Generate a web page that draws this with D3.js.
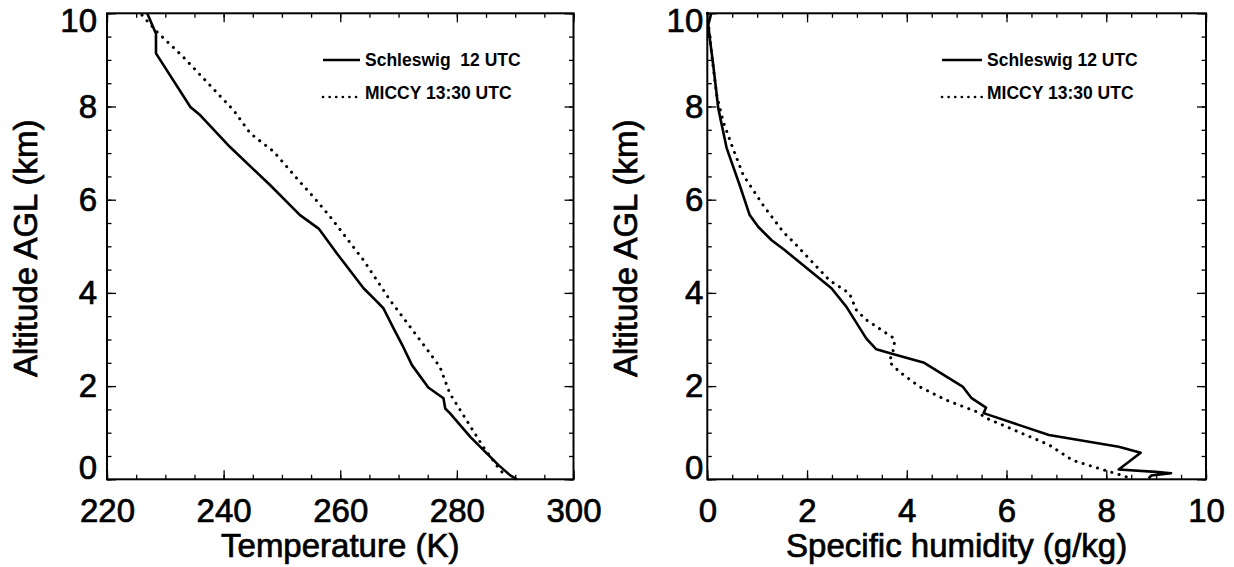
<!DOCTYPE html>
<html>
<head>
<meta charset="utf-8">
<script src="https://cdn.jsdelivr.net/npm/d3@7"></script>
<style>
  html, body { margin: 0; padding: 0; background: #fff; }
  svg { display: block; }
  text { font-family: "Liberation Sans", Arial, Helvetica, sans-serif; fill: #000; }
</style>
</head>
<body>
<svg id="chart" width="1234" height="567"></svg>
<script>
// ---------------- DATA ----------------
const altTicks = [0, 2, 4, 6, 8, 10];
const tempTicks = [220, 240, 260, 280, 300];
const humTicks = [0, 2, 4, 6, 8, 10];
const altDomain = [0, 10];
const tempDomain = [220, 300];
const humDomain = [0, 10];

const yTitle = "Altitude AGL (km)";
const tempTitle = "Temperature (K)";
const humTitle = "Specific humidity (g/kg)";
const legendLeft = ["Schleswig  12 UTC", "MICCY 13:30 UTC"];
const legendRight = ["Schleswig 12 UTC", "MICCY 13:30 UTC"];

// Temperature profiles: [T (K), altitude (km)]
const schleswigTemp = [
  [226.9, 10.0], [228.4, 9.56], [228.4, 9.14], [234.3, 7.99], [236.0, 7.81],
  [241.1, 7.13], [248.0, 6.31], [253.1, 5.67], [256.3, 5.38], [259.4, 4.85],
  [264.0, 4.10], [266.0, 3.85], [267.4, 3.67], [269.1, 3.25], [270.8, 2.84],
  [272.3, 2.45], [275.1, 1.97], [277.7, 1.74], [278.0, 1.52], [278.8, 1.42],
  [282.3, 0.91], [287.1, 0.31], [289.1, 0.09], [290.3, 0.0]
];
const miccyTemp = [
  [226.0, 9.96], [228.6, 9.60], [233.1, 9.06], [241.7, 7.92], [244.6, 7.42],
  [248.6, 7.03], [253.1, 6.38], [255.4, 6.06], [258.3, 5.63], [264.0, 4.70],
  [267.4, 4.06], [268.5, 3.85], [272.0, 3.27], [275.0, 2.77], [277.1, 2.41],
  [278.8, 1.84], [284.5, 0.70], [287.4, 0.20], [288.3, 0.09]
];

// Humidity profiles: [q (g/kg), altitude (km)]
const schleswigHum = [
  [0.08, 10.0], [0.02, 9.75], [0.05, 9.46], [0.12, 8.88], [0.22, 7.96],
  [0.39, 7.10], [0.65, 6.31], [0.85, 5.67], [1.02, 5.42], [1.29, 5.13],
  [1.55, 4.92], [2.49, 4.10], [2.79, 3.70], [3.19, 3.02], [3.39, 2.79],
  [3.72, 2.69], [4.35, 2.50], [5.12, 1.99], [5.30, 1.74], [5.59, 1.54],
  [5.54, 1.42], [6.85, 0.95], [8.25, 0.70], [8.69, 0.57], [8.25, 0.21],
  [8.99, 0.16], [9.30, 0.13], [8.90, 0.08], [8.85, 0.02]
];
const miccyHum = [
  [0.0, 10.0], [0.04, 9.6], [0.10, 9.0], [0.19, 8.24], [0.32, 7.67],
  [0.49, 7.17], [0.72, 6.53], [1.12, 5.88], [1.52, 5.31], [1.72, 5.10],
  [2.45, 4.27], [2.85, 3.99], [2.99, 3.63], [3.19, 3.42], [3.75, 3.02],
  [3.75, 2.84], [3.65, 2.52], [3.85, 2.31], [4.25, 1.99], [4.79, 1.70],
  [5.40, 1.45], [5.60, 1.31], [6.85, 0.74], [7.32, 0.41], [7.95, 0.20],
  [8.39, 0.06], [8.5, 0.0]
];

// ---------------- DRAW ----------------
const svg = d3.select("#chart");
const yTop = 13.3, yBottom = 479.3;
const bigFont = 33;

function heavy(sel) {
  sel.attr("font-family", "Liberation Sans, Arial, sans-serif").attr("fill", "#000")
     .attr("stroke", "#000").attr("stroke-width", 0.7).attr("paint-order", "stroke");
}

function panel(opts) {
  const x = d3.scaleLinear().domain(opts.xDomain).range([opts.x0, opts.x1]);
  const y = d3.scaleLinear().domain(altDomain).range([yBottom, yTop]);
  const g = svg.append("g");

  const majorLen = 9, minorLen = 4.5;
  const xMinor = x.ticks(16), yMinor = y.ticks(20);

  const mk = (axis, tr) => g.append("g").attr("transform", tr).call(axis)
      .call(s => s.select(".domain").remove())
      .call(s => s.selectAll("line").attr("stroke", "#000").attr("stroke-width", 1.3));
  mk(d3.axisBottom(x).tickValues(xMinor).tickSize(-minorLen).tickFormat(""), `translate(0,${yBottom})`);
  mk(d3.axisTop(x).tickValues(xMinor).tickSize(-minorLen).tickFormat(""), `translate(0,${yTop})`);
  mk(d3.axisLeft(y).tickValues(yMinor).tickSize(-minorLen).tickFormat(""), `translate(${opts.x0},0)`);
  mk(d3.axisRight(y).tickValues(yMinor).tickSize(-minorLen).tickFormat(""), `translate(${opts.x1},0)`);
  mk(d3.axisTop(x).tickValues(opts.xTicks).tickSize(-majorLen).tickFormat(""), `translate(0,${yTop})`);
  mk(d3.axisRight(y).tickValues(altTicks).tickSize(-majorLen).tickFormat(""), `translate(${opts.x1},0)`);

  const bx = g.append("g").attr("transform", `translate(0,${yBottom})`)
    .call(d3.axisBottom(x).tickValues(opts.xTicks).tickSize(-majorLen).tickPadding(19).tickFormat(d3.format("d")));
  bx.select(".domain").remove();
  bx.selectAll("line").attr("stroke", "#000").attr("stroke-width", 1.3);
  bx.selectAll("text").attr("font-size", bigFont).call(heavy);

  const ly = g.append("g").attr("transform", `translate(${opts.x0},0)`)
    .call(d3.axisLeft(y).tickValues(altTicks).tickSize(-majorLen).tickPadding(opts.yPad).tickFormat(d3.format("d")));
  ly.select(".domain").remove();
  ly.selectAll("line").attr("stroke", "#000").attr("stroke-width", 1.3);
  ly.selectAll("text").attr("font-size", bigFont).call(heavy)
    .attr("transform", d => d === 0 ? "translate(0,-11)" : (d === 10 ? "translate(0,8)" : null));

  g.append("rect").attr("x", opts.x0).attr("y", yTop)
    .attr("width", opts.x1 - opts.x0).attr("height", yBottom - yTop)
    .attr("fill", "none").attr("stroke", "#000").attr("stroke-width", 2);

  g.append("text").attr("x", (opts.x0 + opts.x1) / 2).attr("y", 557)
    .attr("text-anchor", "middle").attr("font-size", bigFont).call(heavy).text(opts.xTitle);
  g.append("text").attr("transform", `translate(${opts.yTitleX},${(yTop + yBottom) / 2 + 2}) rotate(-90)`)
    .attr("text-anchor", "middle").attr("font-size", bigFont).call(heavy).text(yTitle);

  const line = d3.line().x(d => x(d[0])).y(d => y(d[1]));
  g.append("path").datum(opts.solid).attr("d", line)
    .attr("fill", "none").attr("stroke", "#000").attr("stroke-width", 2.6).attr("stroke-linejoin", "round");
  g.append("path").datum(opts.dotted).attr("d", line)
    .attr("fill", "none").attr("stroke", "#000").attr("stroke-width", 3)
    .attr("stroke-linecap", "round").attr("stroke-dasharray", "0.1 7.4");

  const lg = g.append("g");
  const lx0 = opts.legX, lx1 = opts.legX + opts.legLen;
  lg.append("line").attr("x1", lx0).attr("x2", lx1).attr("y1", 60).attr("y2", 60)
    .attr("stroke", "#000").attr("stroke-width", 2.6);
  lg.append("line").attr("x1", lx0).attr("x2", lx1 + 2).attr("y1", 97).attr("y2", 97)
    .attr("stroke", "#000").attr("stroke-width", 2.6).attr("stroke-linecap", "round").attr("stroke-dasharray", "0.1 6.5");
  lg.selectAll("text.leg").data(opts.legend).enter().append("text")
    .attr("class", "leg")
    .attr("x", lx1 + 5).attr("y", (d, i) => i === 0 ? 66 : 99)
    .attr("font-size", 17.5).attr("font-weight", "bold")
    .style("white-space", "pre")
    .text(d => d);
}

panel({
  x0: 107, x1: 573.5, xDomain: tempDomain, xTicks: tempTicks,
  xTitle: tempTitle, yTitleX: 37, yPad: 10,
  solid: schleswigTemp, dotted: miccyTemp,
  legX: 323, legLen: 37, legend: legendLeft
});
panel({
  x0: 707.3, x1: 1206, xDomain: humDomain, xTicks: humTicks,
  xTitle: humTitle, yTitleX: 637, yPad: 4,
  solid: schleswigHum, dotted: miccyHum,
  legX: 942, legLen: 40, legend: legendRight
});
</script>
</body>
</html>
